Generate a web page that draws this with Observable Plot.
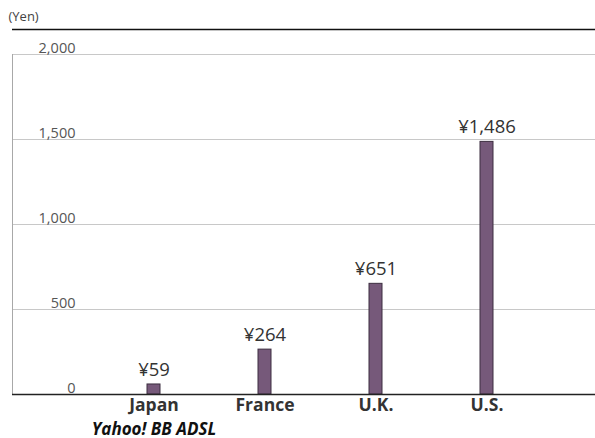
<!DOCTYPE html>
<html>
<head>
<meta charset="utf-8">
<script src="https://cdn.jsdelivr.net/npm/d3@7"></script>
<script src="https://cdn.jsdelivr.net/npm/@observablehq/plot@0.6"></script>
<style>
  html, body { margin: 0; padding: 0; background: #fff; }
  svg { display: block; }
</style>
</head>
<body>
<div id="chart"></div>
<script>
// Monthly broadband charges by country (yen)
const countries = ["Japan", "France", "U.K.", "U.S."];
const prices = [59, 264, 651, 1486];
const priceLabels = ["¥59", "¥264", "¥651", "¥1,486"];
const yTicks = [0, 500, 1000, 1500, 2000];
const gridTicks = [500, 1000, 1500, 2000];
const unitLabel = "(Yen)";
const serviceNote = "Yahoo! BB ADSL";

const rows = countries.map((c, i) => ({country: c, price: prices[i], label: priceLabels[i]}));

const font = "'Open Sans', 'Noto Sans', sans-serif";

const chart = Plot.plot({
  width: 595,
  height: 438,
  marginTop: 54,
  marginBottom: 44,
  marginLeft: 12,
  marginRight: 0,
  style: {fontFamily: font, background: "#fff"},
  x: {
    type: "band",
    domain: countries,
    paddingInner: 0.884,
    paddingOuter: 1.049,
    align: 0.568,
    label: null
  },
  y: {domain: [0, 2000], label: null},
  marks: [
    Plot.ruleY(gridTicks, {stroke: "#c8c8c8", strokeWidth: 1}),
    Plot.frame({anchor: "left", stroke: "#a8a8a8", strokeWidth: 1}),
    Plot.ruleY([2000], {dy: -25, stroke: "#111", strokeWidth: 1.5}),
    Plot.text([unitLabel], {
      frameAnchor: "top-left", dx: -4, dy: -43,
      fontSize: 13, fill: "#444", textAnchor: "start", lineAnchor: "top"
    }),
    Plot.barY(rows, {x: "country", y: "price", fill: "#76597a", stroke: "#3d2e40", strokeWidth: 1}),
    Plot.ruleY([0], {stroke: "#222", strokeWidth: 1.3}),
    Plot.text(rows, {
      x: "country", y: "price", text: "label",
      dy: -8.5, lineAnchor: "bottom", fontSize: 18.5, fill: "#333"
    }),
    Plot.axisY({
      ticks: yTicks, tickSize: 0, tickPadding: 0, dx: 63, dy: -6,
      tickFormat: d3.format(","), fontSize: 14.5, fill: "#555", textAnchor: "end",
      label: null
    }),
    Plot.axisX({
      tickSize: 0, tickPadding: 4.5, fontSize: 17.5, fontWeight: "bold",
      fill: "#333", label: null
    }),
    Plot.text([serviceNote], {
      x: () => "Japan", frameAnchor: "bottom", dy: 40, lineAnchor: "bottom",
      fontSize: 17, fontWeight: "bold", fontStyle: "italic", fill: "#111"
    })
  ]
});

document.getElementById("chart").appendChild(chart);
</script>
</body>
</html>
